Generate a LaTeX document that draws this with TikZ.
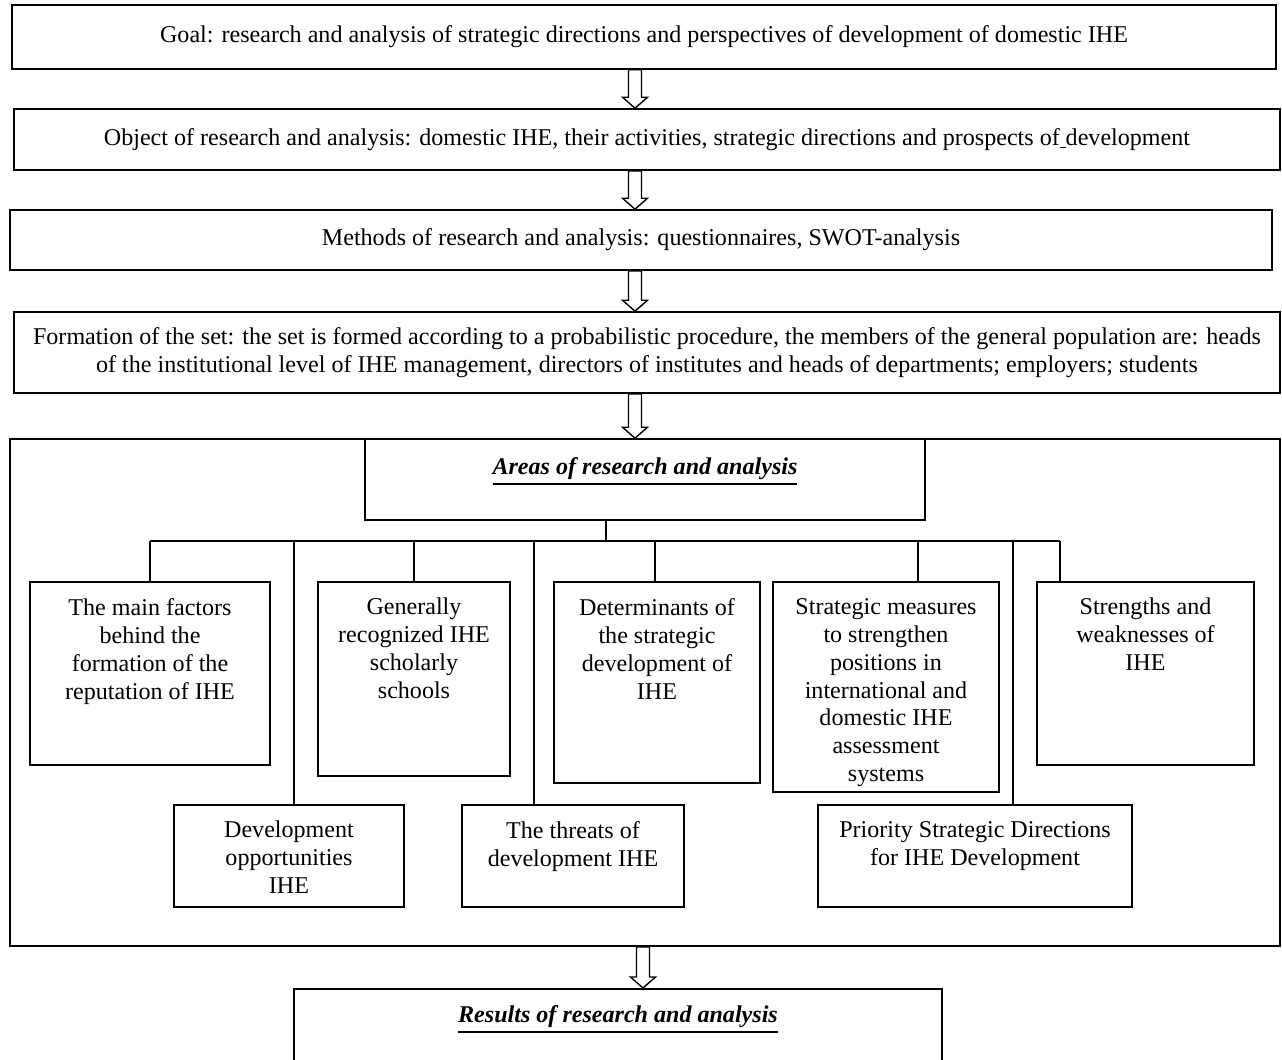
\documentclass[tikz,border=0pt]{standalone}
\usepackage{fontspec}
\setmainfont{Liberation Serif}
\usetikzlibrary{positioning,calc}

\newcommand\hollowarrow[2]{%
  \draw[harrow] let \p1=(#1), \p2=(#2) in
    (\x1-0.13cm,\y1) -- (\x1-0.13cm,\y2+0.22cm) -- (\x1-0.25cm,\y2+0.22cm)
    -- (\x1,\y2) -- (\x1+0.25cm,\y2+0.22cm) -- (\x1+0.13cm,\y2+0.22cm)
    -- (\x1+0.13cm,\y1) -- cycle;}
\newcommand\thickul[1]{\leavevmode\vtop{\hbox{#1}\kern1.6pt\hrule height 1.1pt}}

\begin{document}
\begin{tikzpicture}[x=0.02cm, y=-0.02cm,
  box/.style={draw, line width=0.9pt, inner sep=0pt, align=center,
    font=\fontsize{13.7}{15.9}\selectfont},
  wh/.style 2 args={minimum width=#1*0.02cm, minimum height=#2*0.02cm},
  txt/.style={align=center, inner sep=0pt, font=\fontsize{13.7}{15.9}\selectfont},
  ttl/.style={txt, font=\fontsize{13.7}{15.9}\selectfont\bfseries\itshape},
  link/.style={line width=0.8pt},
  harrow/.style={draw, fill=white, line width=0.8pt, line join=miter}]
\useasboundingbox (0,0) rectangle (1282,1059);

\node[box, wh={1264}{64}] (goal) at (644,37)
  {Goal: research and analysis of strategic directions and perspectives of development of domestic IHE};
\node[box, wh={1266}{61}] (object) at (647,139.5)
  {Object of research and analysis: domestic IHE, their activities, strategic directions and prospects of\underline{\ }development};
\node[box, wh={1262}{60}] (methods) at (641,240)
  {Methods of research and analysis: questionnaires, SWOT-analysis};
\node[box, wh={1266}{81}] (formation) at (647,352.5)
  {Formation of the set: the set is formed according to a probabilistic procedure, the members of the general population are: heads\\
   of the institutional level of IHE management, directors of institutes and heads of departments; employers; students};

\node[box, wh={1270}{507}] (frame) at (645,692.5) {};
\node[box, wh={560}{81}] (areas) at (645,479.5) {};
\node[ttl, below=11pt of areas.north] (areas-t) {\thickul{Areas of research and analysis}};

% upper row
\node[box, wh={240}{183}] (factors) at (150,673.5) {};
\node[box, wh={192}{194}] (general) at (414,679) {};
\node[box, wh={206}{201}] (determ) at (657,682.5) {};
\node[box, wh={226}{210}] (strat) at (886,687) {};
\node[box, wh={217}{183}] (strengths) at (1145.5,673.5) {};
% lower row
\node[box, wh={230}{102}] (devel) at (289,856) {};
\node[box, wh={222}{102}] (threats) at (573,856) {};
\node[box, wh={314}{102}] (prior) at (975,856) {};

\node[txt, below=9.5pt of factors.north] (factors-t)
  {The main factors\\behind the\\formation of the\\reputation of IHE};
\node[txt, below=9.5pt of general.north] (general-t)
  {Generally\\recognized IHE\\scholarly\\schools};
\node[txt, below=9.5pt of determ.north] (determ-t)
  {Determinants of\\the strategic\\development of\\IHE};
\node[txt, below=9.5pt of strat.north] (strat-t)
  {Strategic measures\\to strengthen\\positions in\\international and\\domestic IHE\\assessment\\systems};
\node[txt, below=9.5pt of strengths.north] (strengths-t)
  {Strengths and\\weaknesses of\\IHE};
\node[txt, below=9.5pt of devel.north] (devel-t)
  {Development\\opportunities\\IHE};
\node[txt, below=9.5pt of threats.north] (threats-t)
  {The threats of\\development IHE};
\node[txt, below=9.5pt of prior.north] (prior-t)
  {Priority Strategic Directions\\for IHE Development};

\node[box, wh={648}{160}, anchor=north] (results) at (618,988) {};
\node[ttl, below=10pt of results.north] (results-t) {\thickul{Results of research and analysis}};

% tree
\coordinate (bus) at (606,541);
\coordinate (busend) at (1060,541);
\draw[link] (areas.south -| bus) -- (bus);
\draw[link] (bus -| factors.north) -- (busend);
\foreach \d/\b in {150/factors,294/devel,414/general,534/threats,655/determ,918/strat,1013/prior,1060/strengths}
  {\coordinate (drop) at (\d,541);
   \draw[link] (drop) -- (drop |- \b.north);}

% arrows
\coordinate (ax) at (635,0);
\coordinate (bx) at (643,0);
\hollowarrow{goal.south -| ax}{object.north -| ax}
\hollowarrow{object.south -| ax}{methods.north -| ax}
\hollowarrow{methods.south -| ax}{formation.north -| ax}
\hollowarrow{formation.south -| ax}{frame.north -| ax}
\hollowarrow{frame.south -| bx}{results.north -| bx}
\end{tikzpicture}
\end{document}
